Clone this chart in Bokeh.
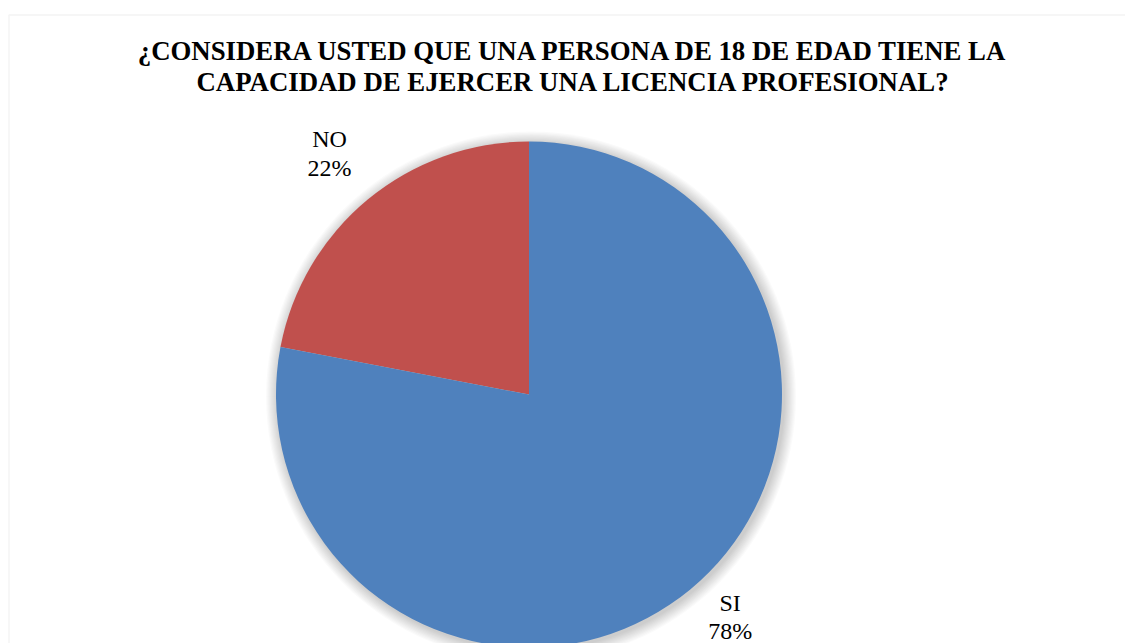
import math
from bokeh.plotting import figure
from bokeh.models import Range1d, BoxAnnotation
from bokeh.core.properties import value
from bokeh.embed import file_html
from bokeh.resources import INLINE

# ---- data ----
categories = ["NO", "SI"]
percent = [22, 78]
colors = ["#C0504D", "#4F81BD"]
title_lines = ["¿CONSIDERA USTED QUE UNA PERSONA DE 18 DE EDAD TIENE LA",
               "CAPACIDAD DE EJERCER UNA LICENCIA PROFESIONAL?"]

W, H = 1125, 643
p = figure(width=W, height=H, output_backend="svg", toolbar_location=None,
           x_axis_location=None, y_axis_location=None,
           x_range=Range1d(0, W), y_range=Range1d(0, H),
           min_border=0, min_border_left=0, min_border_right=0,
           min_border_top=0, min_border_bottom=0)
p.outline_line_color = None
p.grid.visible = False
p.background_fill_color = "white"
p.border_fill_color = "white"

# chart border
p.add_layout(BoxAnnotation(left=8.5, top=628.5, right=W + 50, bottom=-50,
                           fill_alpha=0, line_color="#d9d9d9", line_width=1.5))

cx, cy, R = 528.5, 249, 253

# soft shadow
for i in range(1, 11):
    p.circle(x=[cx + 2], y=[cy - 2], radius=R + 1.2 * i, fill_color="black",
             fill_alpha=0.02, line_color=None)

# wedges
total = sum(percent)
start = math.pi / 2
starts, ends, mids = [], [], []
for v in percent:
    a = 2 * math.pi * v / total
    starts.append(start)
    ends.append(start + a)
    mids.append(start + a / 2)
    start += a

p.wedge(x=[cx] * len(percent), y=[cy] * len(percent), radius=R,
        start_angle=starts, end_angle=ends, direction="anticlock",
        fill_color=colors, line_color=None)

# labels (outside end)
label_r = [313, 300]
label_shift_deg = [0, 2.5]
la = [m + math.radians(d) for m, d in zip(mids, label_shift_deg)]
lx = [cx + r * math.cos(a) for r, a in zip(label_r, la)]
ly = [cy + r * math.sin(a) for r, a in zip(label_r, la)]
labels = [f"{c}\n{v}%" for c, v in zip(categories, percent)]
p.text(x=lx, y=ly, text=labels, text_align="center", text_baseline="middle",
       text_font=value("Liberation Serif"), text_font_size="24px",
       text_line_height=1.1, text_color="black")

# title
p.text(x=[573.5, 573.5], y=[593, 562], text=title_lines, text_align="center",
       text_baseline="alphabetic", text_font=value("Liberation Serif"),
       text_font_style="bold", text_font_size="26.8px", text_color="black")

open("out.html", "w").write(file_html(p, INLINE))
